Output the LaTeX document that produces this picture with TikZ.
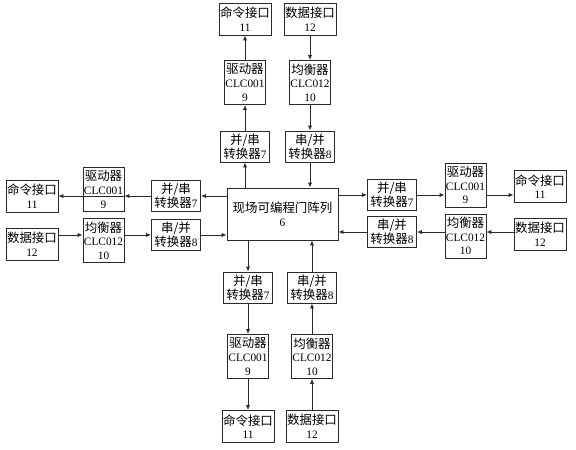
\documentclass[tikz,border=0pt]{standalone}
\usepackage{fontspec}
\setmainfont{Liberation Serif}
\newfontfamily\cjk[Scale=1.1]{Noto Sans CJK SC}
\usetikzlibrary{arrows.meta,positioning}
\definecolor{ink}{HTML}{2A2A2A}
\definecolor{paper}{HTML}{FFFFFF}
\tikzset{
  blk/.style={draw=ink,fill=paper,line width=0.7pt,align=center,inner sep=0.5pt,font=\fontsize{8.5}{10.2}\selectfont},
  portbox/.style={blk,minimum width=39pt,minimum height=24pt},
  chipbox/.style={blk,minimum width=30.75pt,minimum height=33pt},
  convbox/.style={blk,minimum width=36.75pt,minimum height=23.25pt},
  fpgabox/.style={blk,minimum width=83.25pt,minimum height=39pt},
  sigarr/.style={-{Latex[length=1.3mm,width=1.1mm]},line width=0.6pt,color=ink}
}

\begin{document}
\begin{tikzpicture}[x=0.75pt,y=-0.75pt,>=Latex]
  \useasboundingbox[fill=paper] (0,0) rectangle (576,450);

  % centre
  \node[fpgabox] (fpga) at (282.5,214) {{\cjk 现场可编程门阵列}\\6};

  % top branch
  \node[portbox] (cmdT) at (245,19) {{\cjk 命令接口}\\11};
  \node[portbox] (datT) at (310,19) {{\cjk 数据接口}\\12};
  \node[chipbox] (drvT) at (245,82.5) {{\cjk 驱动器}\\CLC001\\9};
  \node[chipbox] (eqT) at (310,82.5) {{\cjk 均衡器}\\CLC012\\10};
  \node[convbox] (psT) at (245,146.5) {{\cjk 并/串}\\{\cjk 转换器}7};
  \node[convbox] (spT) at (310,146.5) {{\cjk 串/并}\\{\cjk 转换器}8};

  % left branch
  \node[portbox] (cmdL) at (32,196) {{\cjk 命令接口}\\11};
  \node[chipbox] (drvL) at (103.5,189.5) {{\cjk 驱动器}\\CLC001\\9};
  \node[convbox] (psL) at (176,196) {{\cjk 并/串}\\{\cjk 转换器}7};
  \node[portbox] (datL) at (32,244) {{\cjk 数据接口}\\12};
  \node[chipbox] (eqL) at (103.5,240.5) {{\cjk 均衡器}\\CLC012\\10};
  \node[convbox] (spL) at (176,235) {{\cjk 串/并}\\{\cjk 转换器}8};

  % right branch
  \node[convbox] (psR) at (392,195) {{\cjk 并/串}\\{\cjk 转换器}7};
  \node[chipbox] (drvR) at (465.5,185) {{\cjk 驱动器}\\CLC001\\9};
  \node[portbox] (cmdR) at (540,186.5) {{\cjk 命令接口}\\11};
  \node[convbox] (spR) at (392,232) {{\cjk 串/并}\\{\cjk 转换器}8};
  \node[chipbox] (eqR) at (465.5,236) {{\cjk 均衡器}\\CLC012\\10};
  \node[portbox] (datR) at (540,234) {{\cjk 数据接口}\\12};

  % bottom branch
  \node[convbox] (psB) at (248,287.5) {{\cjk 并/串}\\{\cjk 转换器}7};
  \node[convbox] (spB) at (312,287.5) {{\cjk 串/并}\\{\cjk 转换器}8};
  \node[chipbox] (drvB) at (248,356.5) {{\cjk 驱动器}\\CLC001\\9};
  \node[chipbox] (eqB) at (312,356.5) {{\cjk 均衡器}\\CLC012\\10};
  \node[portbox] (cmdB) at (248,426.5) {{\cjk 命令接口}\\11};
  \node[portbox] (datB) at (312,426.5) {{\cjk 数据接口}\\12};

  % top links
  \draw[sigarr] (fpga.north -| psT) -- (psT);
  \draw[sigarr] (psT) -- (drvT);
  \draw[sigarr] (drvT) -- (cmdT);
  \draw[sigarr] (datT) -- (eqT);
  \draw[sigarr] (eqT) -- (spT);
  \draw[sigarr] (spT) -- (fpga.north -| spT);

  % left links
  \draw[sigarr] (fpga.west |- psL) -- (psL);
  \draw[sigarr] (psL.west) -- (psL.west -| drvL.east);
  \draw[sigarr] (drvL.east |- cmdL) -- (cmdL);
  \draw[sigarr] (datL.east |- spL) -- (eqL.west |- spL);
  \draw[sigarr] (eqL.east |- spL) -- (spL);
  \draw[sigarr] (spL) -- (fpga.west |- spL);

  % right links
  \draw[sigarr] (fpga.east |- psR) -- (psR);
  \draw[sigarr] (psR.east) -- (psR.east -| drvR.west);
  \draw[sigarr] (drvR.east |- psR) -- (cmdR.west |- psR);
  \draw[sigarr] (datR.west |- spR) -- (eqR.east |- spR);
  \draw[sigarr] (eqR.west |- spR) -- (spR);
  \draw[sigarr] (spR) -- (fpga.east |- spR);

  % bottom links
  \draw[sigarr] (fpga.south -| psB) -- (psB);
  \draw[sigarr] (psB) -- (drvB);
  \draw[sigarr] (drvB) -- (cmdB);
  \draw[sigarr] (datB) -- (eqB);
  \draw[sigarr] (eqB) -- (spB);
  \draw[sigarr] (spB) -- (fpga.south -| spB);
\end{tikzpicture}
\end{document}
